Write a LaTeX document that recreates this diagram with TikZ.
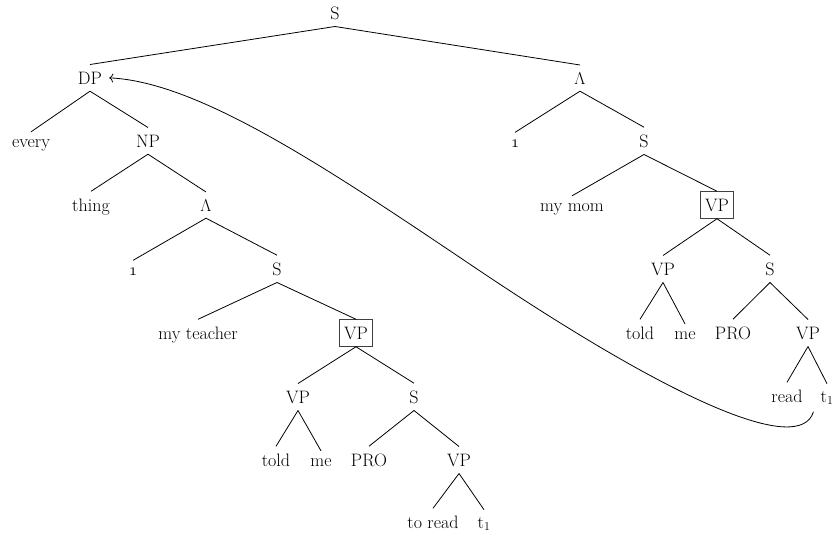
\documentclass[tikz,border=0pt]{standalone}
\usepackage{fontspec}
\usetikzlibrary{arrows.meta}
\begin{document}
\begin{tikzpicture}[x=1pt,y=-1pt,
  font=\fontsize{18}{21}\selectfont,
  nd/.style={anchor=base,inner xsep=7pt,inner ysep=7pt},
  boxed/.style={anchor=base,draw=black!75,line width=0.9pt,inner xsep=5pt,inner ysep=7pt},
  edge/.style={line width=0.8pt}]
\useasboundingbox (0,0) rectangle (837,533);
% root
\node[nd] (S0) at (335,19) {S};
% left part
\node[nd] (DP) at (90,84) {DP};
\node[nd] (every) at (31,147) {every};
\node[nd] (NP) at (148,147) {NP};
\node[nd] (thing) at (91,211) {thing};
\node[nd] (LamL) at (206,211) {$\Lambda$};
\node[nd] (oneL) at (133,275) {$\mathnormal{1}$};
\node[nd] (SL) at (277,275) {S};
\node[nd] (teacher) at (198,339) {my teacher};
\node[boxed] (VPbL) at (356,339) {VP};
\node[nd] (VPL) at (298,403) {VP};
\node[nd] (SL2) at (414,403) {S};
\node[nd] (toldL) at (276,466) {told};
\node[nd] (meL) at (321,466) {me};
\node[nd] (PROL) at (369,466) {PRO};
\node[nd] (VPL2) at (459,466) {VP};
\node[nd] (toread) at (433,528) {to read};
\node[nd] (tL) at (484,528) {t$_1$};
% right part
\node[nd] (LamR) at (580,84) {$\Lambda$};
\node[nd] (oneR) at (515,147) {$\mathnormal{1}$};
\node[nd] (SR) at (644,147) {S};
\node[nd] (mom) at (572,211) {my mom};
\node[boxed] (VPbR) at (717,211) {VP};
\node[nd] (VPR) at (663,275) {VP};
\node[nd] (SR2) at (770,275) {S};
\node[nd] (toldR) at (640,339) {told};
\node[nd] (meR) at (685,339) {me};
\node[nd] (PROR) at (733,339) {PRO};
\node[nd] (VPR2) at (808,339) {VP};
\node[nd] (read) at (787,402) {read};
\node[nd] (tR) at (827,402) {t$_1$};
% edges
\foreach \a/\b in {S0/DP,S0/LamR,DP/every,DP/NP,NP/thing,NP/LamL,LamL/oneL,LamL/SL,
  SL/teacher,SL/VPbL,VPbL/VPL,VPbL/SL2,VPL/toldL,VPL/meL,SL2/PROL,SL2/VPL2,VPL2/toread,VPL2/tL,
  LamR/oneR,LamR/SR,SR/mom,SR/VPbR,VPbR/VPR,VPbR/SR2,VPR/toldR,VPR/meR,SR2/PROR,SR2/VPR2,VPR2/read,VPR2/tR}
  \draw[edge] (\a.south) -- (\b.north);
% movement arrow
\coordinate (mid) at (480,271);
\draw[edge,-{To[length=4pt,width=9pt]}] (tR.south west) .. controls (800,455) and (680,405) .. (mid)
  .. controls (330,170) and (200,82) .. (DP.east);
\end{tikzpicture}
\end{document}
